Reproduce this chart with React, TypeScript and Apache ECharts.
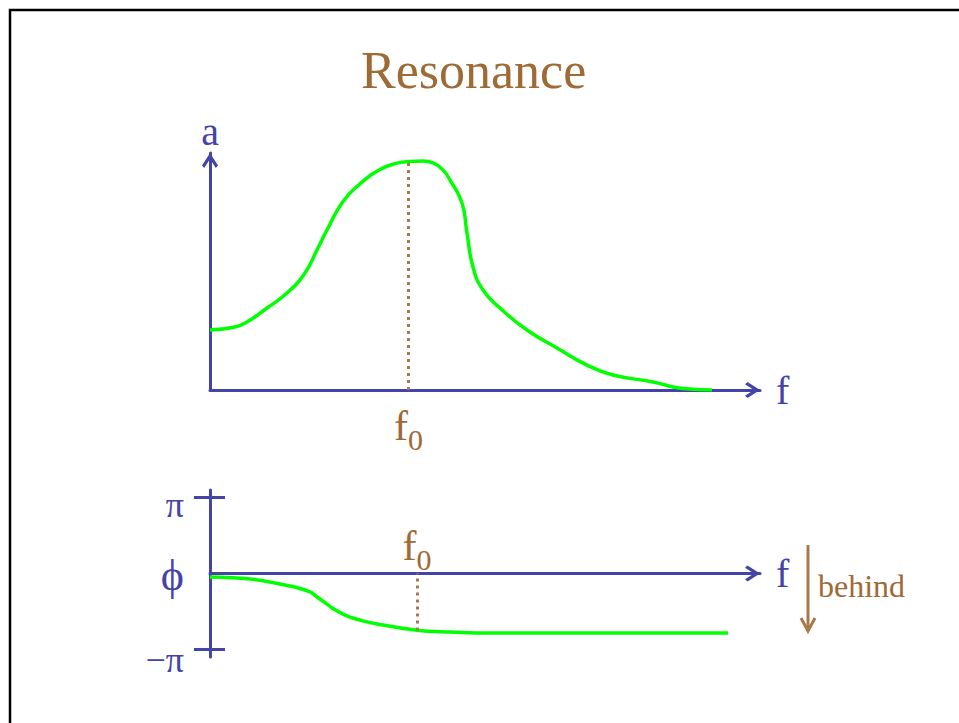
import { useEffect, useRef } from 'react';
import * as echarts from 'echarts';

const chartTitle = 'Resonance';

// amplitude curve (top panel): frequency f vs amplitude a
const ampFreq = [0, 0.5, 0.74, 1.14, 1.54, 1.9, 2.14, 2.34, 2.66, 3.0, 3.4, 3.7, 4.0, 4.26, 4.46, 4.66, 4.8, 5.04, 5.14, 5.26, 5.46, 5.8, 6.34, 6.94, 7.54, 8.06, 8.86, 9.26, 9.6, 10.04];
const ampValues = [2.53, 2.66, 2.87, 3.46, 4.09, 4.94, 5.91, 6.75, 7.95, 8.7, 9.3, 9.55, 9.64, 9.66, 9.58, 9.28, 8.86, 7.89, 6.62, 5.19, 4.22, 3.46, 2.53, 1.77, 1.05, 0.63, 0.34, 0.13, 0.04, 0.0];

// phase curve (bottom panel): frequency f vs phase φ (radians)
const phaseFreq = [0, 0.8, 1.6, 2.0, 2.14, 2.3, 2.44, 2.8, 3.46, 4.14, 4.8, 5.4, 10.36];
const phaseValues = [-0.14, -0.23, -0.52, -0.76, -0.97, -1.2, -1.42, -1.8, -2.13, -2.34, -2.42, -2.46, -2.46];

const f0Amp = 3.97;
const f0AmpPeak = 9.64;
const f0Phase = 4.14;
const f0PhaseValue = -2.36;

const PI = Math.PI;
const phaseTickValues = [-PI, PI];
const phaseLabelValues = [-PI, 0, PI];
const phaseLabelTexts = ['−π', 'ϕ', 'π'];

const BLUE = '#4343A8';
const BROWN = '#9E6A35';
const DOT_BROWN = '#A8794A';
const GREEN = '#00FF00';
const SERIF = '"Liberation Serif", "Times New Roman", serif';
const CHEVRON = 'path://M8,0L16,12.5L13.8,15L8,6L2.2,15L0,12.5Z';

export default function App() {
  const ref = useRef<HTMLDivElement>(null);

  useEffect(() => {
    if (!ref.current) return;
    const chart = echarts.init(ref.current, null, { renderer: 'svg' });

    const axisArrowLine = {
      show: true,
      lineStyle: { color: BLUE, width: 3 },
      symbol: ['none', CHEVRON],
      symbolSize: [16, 15],
      symbolOffset: [0, -7.5],
    };

    const f0Rich = {
      f: { fontFamily: SERIF, fontSize: 42, color: BROWN, lineHeight: 44 },
      s: { fontFamily: SERIF, fontSize: 30, color: BROWN, lineHeight: 16, padding: [27, 0, 0, 0] },
    };

    const option: any = {
      animation: false,
      backgroundColor: '#ffffff',
      title: {
        text: chartTitle,
        left: 361,
        top: 44,
        padding: 0,
        textStyle: { fontFamily: SERIF, fontSize: 52, fontWeight: 'normal', color: BROWN },
      },
      grid: [
        { left: 210, right: 199, top: 153, bottom: 333, outerBoundsMode: 'none' },
        { left: 210, right: 199, top: 490, bottom: 66, outerBoundsMode: 'none' },
      ],
      xAxis: [
        {
          type: 'value',
          gridIndex: 0,
          min: 0,
          max: 11,
          axisLine: axisArrowLine,
          axisTick: { show: false },
          splitLine: { show: false },
          axisLabel: {
            customValues: [f0Amp],
            margin: 14,
            formatter: () => '{f|f}{s|0}',
            rich: f0Rich,
          },
          name: 'f',
          nameLocation: 'end',
          nameGap: 16,
          nameTextStyle: { fontFamily: SERIF, fontSize: 40, color: BLUE },
        },
        {
          type: 'value',
          gridIndex: 1,
          min: 0,
          max: 11,
          axisLine: { ...axisArrowLine, onZero: true },
          axisTick: { show: false },
          splitLine: { show: false },
          axisLabel: { show: false },
          name: 'f',
          nameLocation: 'end',
          nameGap: 16,
          nameTextStyle: { fontFamily: SERIF, fontSize: 40, color: BLUE },
        },
      ],
      yAxis: [
        {
          type: 'value',
          gridIndex: 0,
          min: 0,
          max: 10,
          axisLine: axisArrowLine,
          axisTick: { show: false },
          axisLabel: { show: false },
          splitLine: { show: false },
          name: 'a',
          nameLocation: 'end',
          nameGap: 2,
          nameTextStyle: { fontFamily: SERIF, fontSize: 40, color: BLUE },
        },
        {
          type: 'value',
          gridIndex: 1,
          position: 'left',
          offset: 0,
          min: -3.45,
          max: 3.45,
          axisLine: { show: true, onZero: false, lineStyle: { color: BLUE, width: 3 } },
          axisTick: {
            show: true,
            customValues: phaseTickValues,
            length: 16,
            lineStyle: { color: BLUE, width: 3 },
          },
          splitLine: { show: false },
          axisLabel: {
            customValues: phaseLabelValues,
            margin: 26,
            formatter: (v: number) => {
              const i = phaseLabelValues.findIndex((p) => Math.abs(p - v) < 1e-6);
              const t = phaseLabelTexts[i];
              if (i === 0) return '{m|' + t + '}';
              if (i === 2) return '{p|' + t + '}';
              return '{z|' + t + '}';
            },
            rich: {
              m: { fontFamily: SERIF, fontSize: 36, color: BLUE, padding: [20, 0, 0, 0] },
              p: { fontFamily: SERIF, fontSize: 36, color: BLUE, padding: [16, 0, 0, 0] },
              z: { fontFamily: SERIF, fontSize: 44, color: BLUE, padding: [4, 0, 0, 0] },
            },
          },
        },
        {
          type: 'value',
          gridIndex: 1,
          position: 'left',
          offset: 0,
          min: -3.45,
          max: 3.45,
          axisLine: { show: false },
          axisTick: {
            show: true,
            inside: true,
            customValues: phaseTickValues,
            length: 15,
            lineStyle: { color: BLUE, width: 3 },
          },
          axisLabel: { show: false },
          splitLine: { show: false },
        },
      ],
      series: [
        {
          type: 'line',
          xAxisIndex: 0,
          yAxisIndex: 0,
          data: ampFreq.map((f, i) => [f, ampValues[i]]),
          showSymbol: false,
          smooth: 0.5,
          lineStyle: { color: GREEN, width: 3.5 },
          z: 3,
          markLine: {
            silent: true,
            symbol: ['none', 'none'],
            label: { show: false },
            lineStyle: { color: DOT_BROWN, type: [3, 4], width: 3 },
            data: [[{ coord: [f0Amp, 0] }, { coord: [f0Amp, f0AmpPeak] }]],
          },
        },
        {
          type: 'line',
          xAxisIndex: 1,
          yAxisIndex: 1,
          data: phaseFreq.map((f, i) => [f, phaseValues[i]]),
          showSymbol: false,
          smooth: 0.4,
          lineStyle: { color: GREEN, width: 3.5 },
          z: 3,
          markLine: {
            silent: true,
            symbol: ['none', 'none'],
            label: {
              show: true,
              position: 'end',
              distance: 6,
              formatter: () => '{f|f}{s|0}',
              rich: f0Rich,
            },
            lineStyle: { color: DOT_BROWN, type: [3, 4], width: 3 },
            data: [[{ coord: [f0Phase, f0PhaseValue] }, { coord: [f0Phase, 0] }]],
          },
        },
      ],
      graphic: [
        {
          type: 'rect',
          shape: { x: 10, y: 10, width: 2000, height: 2000 },
          style: { fill: 'none', stroke: '#000000', lineWidth: 2.5 },
          silent: true,
        },
        {
          type: 'group',
          silent: true,
          children: [
            {
              type: 'line',
              shape: { x1: 808, y1: 545, x2: 808, y2: 630 },
              style: { stroke: DOT_BROWN, lineWidth: 3 },
            },
            {
              type: 'polyline',
              shape: { points: [[801, 618], [808, 631], [815, 618]] },
              style: { stroke: DOT_BROWN, lineWidth: 3, fill: 'none' },
            },
            {
              type: 'text',
              x: 818,
              y: 586,
              style: {
                text: 'behind',
                fontFamily: SERIF,
                fontSize: 32,
                fill: BROWN,
                align: 'left',
                verticalAlign: 'middle',
                textAlign: 'left',
                textVerticalAlign: 'middle',
              },
            },
          ],
        },
      ],
    };

    chart.setOption(option);
    return () => chart.dispose();
  }, []);

  return (
    <div
      ref={ref}
      style={{ position: 'absolute', left: 0, top: 0, width: 959, height: 723, background: '#fff' }}
    />
  );
}
